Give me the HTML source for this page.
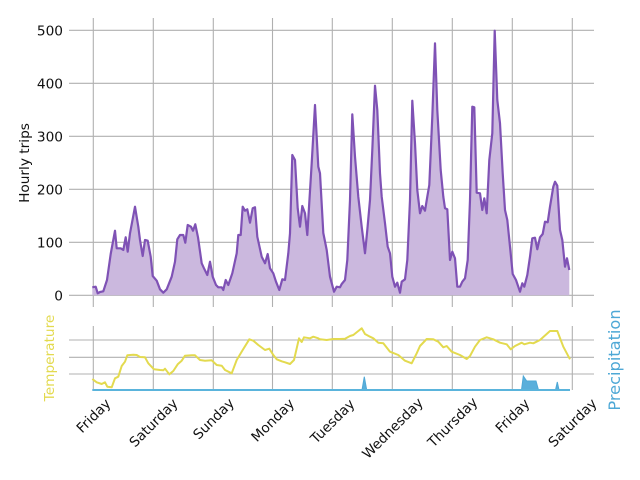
<!DOCTYPE html>
<html><head><meta charset="utf-8"><style>
html,body{margin:0;padding:0;background:#fff;}
svg{display:block;font-family:"DejaVu Sans","Liberation Sans",sans-serif;}
</style></head><body>
<svg width="640" height="480" viewBox="0 0 640 480">
<g stroke="#b0b0b0" stroke-width="1.1">
<line x1="69" y1="30.3" x2="594" y2="30.3"/><line x1="69" y1="83.3" x2="594" y2="83.3"/>
<line x1="69" y1="136.3" x2="594" y2="136.3"/><line x1="69" y1="189.3" x2="594" y2="189.3"/>
<line x1="69" y1="242.3" x2="594" y2="242.3"/><line x1="69" y1="295.3" x2="594" y2="295.3"/>
<line x1="93.3" y1="18" x2="93.3" y2="307"/><line x1="153.3" y1="18" x2="153.3" y2="307"/>
<line x1="213.3" y1="18" x2="213.3" y2="307"/><line x1="272.5" y1="18" x2="272.5" y2="307"/>
<line x1="332.3" y1="18" x2="332.3" y2="307"/><line x1="392.3" y1="18" x2="392.3" y2="307"/>
<line x1="452.3" y1="18" x2="452.3" y2="307"/><line x1="512.3" y1="18" x2="512.3" y2="307"/>
<line x1="572.3" y1="18" x2="572.3" y2="307"/>
<line x1="69" y1="340" x2="594" y2="340"/><line x1="69" y1="357.3" x2="594" y2="357.3"/><line x1="69" y1="374" x2="594" y2="374"/>
<line x1="93.3" y1="326" x2="93.3" y2="390"/><line x1="153.3" y1="326" x2="153.3" y2="390"/>
<line x1="213.3" y1="326" x2="213.3" y2="390"/><line x1="272.5" y1="326" x2="272.5" y2="390"/>
<line x1="332.3" y1="326" x2="332.3" y2="390"/><line x1="392.3" y1="326" x2="392.3" y2="390"/>
<line x1="452.3" y1="326" x2="452.3" y2="390"/><line x1="512.3" y1="326" x2="512.3" y2="390"/>
<line x1="572.3" y1="326" x2="572.3" y2="390"/>
</g>
<defs>
<polyline id="trips" points="92.3,287.3 95.7,286.7 97.7,293.3 100,292 103.3,291.3 107,280 110.7,254 115,230.7 116.7,248.3 118.3,248.3 120.7,248.3 123.3,250 125.7,237.3 127.7,251.7 130,233.3 135,206.7 138.3,226.7 140,240 142.7,256 145,240 147.7,240.7 150.7,256.7 152.7,276 156.7,280.7 160,289.3 163.3,292.7 166.7,289.3 171.7,276.7 175,261.7 177.3,239.3 180,235 183.3,235 185.3,242.7 187.7,225 191,226.7 193,230.7 195.3,224.3 198,237.3 201.7,263.3 204,268.3 207.3,275 210,261.7 212.7,276.7 216,285 218.3,287.3 221.7,287.3 223.3,290 225.7,280 228.3,285 232.3,273.3 236.7,253.3 238.3,235 240.7,235 242.7,206.7 245,210.7 247.3,209.3 250,222.7 252.7,208.3 255,207.3 257.3,236.7 261.7,256.7 265,263.3 267.7,254 270,268.3 273.3,273.3 276,281.7 279.3,290 282.3,279.3 285,280 288.3,253.3 290,233.3 292.3,155 295,160 297.7,208.3 300,226.7 302.3,206 305,213.3 307.3,235 311.7,163.3 315,105 318.3,166.7 320,173.3 323.3,233 326.7,250 330,276.7 334,291.7 336.7,286.7 340,287.3 341.7,284 345,280 347.3,260 350,200 352.3,114.3 355,156.7 358.3,196.7 361.7,226.7 365,253.3 367.3,230 370,200 372.3,150 375,85.7 377.3,110 380,173.3 381.7,196.7 385,223.3 387.7,246.7 390,253.3 392.3,276.7 395,286.7 397.3,282.7 400,292.7 401.7,281.7 405,279.3 407.3,260 410,200 412.3,100.7 415,143.3 417.3,190 420,213.3 422.3,206 425,210.7 427.3,196.7 429.3,185 432.3,116.7 435,43.3 437.3,110 440.7,170 443.3,196.7 445,208.3 447.3,209.3 450,260 452.3,251.7 455,258.3 457.3,286.7 460,286.7 462.3,281.7 465,278.3 467.7,260 470,200 472.3,106.7 474.3,107.3 476.7,192.7 480,193.3 482.3,210 484.3,198.3 486.7,213.3 489.3,160 492.3,133.3 494.7,30.7 497.3,100 500,123.3 502.7,173.3 505,210 507.3,220 510,246.7 512.7,274 516,280 520,291.7 522.3,283.3 524.3,286.7 527.3,275 530,256.7 532.3,238.3 535,237.7 537.3,249.3 540,237.3 542.7,234 545,221.7 547.7,222.3 550,206.7 553.3,186.7 555,181.7 557.3,185.7 560,230 562.3,240 565,266.7 567,258.3 569.3,270"/>
</defs>
<polygon fill="#cbb8de" points="92.3,295.3 92.3,287.3 95.7,286.7 97.7,293.3 100,292 103.3,291.3 107,280 110.7,254 115,230.7 116.7,248.3 118.3,248.3 120.7,248.3 123.3,250 125.7,237.3 127.7,251.7 130,233.3 135,206.7 138.3,226.7 140,240 142.7,256 145,240 147.7,240.7 150.7,256.7 152.7,276 156.7,280.7 160,289.3 163.3,292.7 166.7,289.3 171.7,276.7 175,261.7 177.3,239.3 180,235 183.3,235 185.3,242.7 187.7,225 191,226.7 193,230.7 195.3,224.3 198,237.3 201.7,263.3 204,268.3 207.3,275 210,261.7 212.7,276.7 216,285 218.3,287.3 221.7,287.3 223.3,290 225.7,280 228.3,285 232.3,273.3 236.7,253.3 238.3,235 240.7,235 242.7,206.7 245,210.7 247.3,209.3 250,222.7 252.7,208.3 255,207.3 257.3,236.7 261.7,256.7 265,263.3 267.7,254 270,268.3 273.3,273.3 276,281.7 279.3,290 282.3,279.3 285,280 288.3,253.3 290,233.3 292.3,155 295,160 297.7,208.3 300,226.7 302.3,206 305,213.3 307.3,235 311.7,163.3 315,105 318.3,166.7 320,173.3 323.3,233 326.7,250 330,276.7 334,291.7 336.7,286.7 340,287.3 341.7,284 345,280 347.3,260 350,200 352.3,114.3 355,156.7 358.3,196.7 361.7,226.7 365,253.3 367.3,230 370,200 372.3,150 375,85.7 377.3,110 380,173.3 381.7,196.7 385,223.3 387.7,246.7 390,253.3 392.3,276.7 395,286.7 397.3,282.7 400,292.7 401.7,281.7 405,279.3 407.3,260 410,200 412.3,100.7 415,143.3 417.3,190 420,213.3 422.3,206 425,210.7 427.3,196.7 429.3,185 432.3,116.7 435,43.3 437.3,110 440.7,170 443.3,196.7 445,208.3 447.3,209.3 450,260 452.3,251.7 455,258.3 457.3,286.7 460,286.7 462.3,281.7 465,278.3 467.7,260 470,200 472.3,106.7 474.3,107.3 476.7,192.7 480,193.3 482.3,210 484.3,198.3 486.7,213.3 489.3,160 492.3,133.3 494.7,30.7 497.3,100 500,123.3 502.7,173.3 505,210 507.3,220 510,246.7 512.7,274 516,280 520,291.7 522.3,283.3 524.3,286.7 527.3,275 530,256.7 532.3,238.3 535,237.7 537.3,249.3 540,237.3 542.7,234 545,221.7 547.7,222.3 550,206.7 553.3,186.7 555,181.7 557.3,185.7 560,230 562.3,240 565,266.7 567,258.3 569.3,270 569.3,295.3"/>
<use href="#trips" fill="none" stroke="#7f52b5" stroke-width="2.2" stroke-linejoin="round"/>
<polyline fill="none" stroke="#e3da4f" stroke-width="2" stroke-linejoin="round" points="92.3,379 96.7,382.3 101.7,384 105,382.3 107.3,386.7 111.7,387.3 115,378.3 118.3,376.7 121.7,366 125,361.7 127.3,355.3 133.3,354.7 136.7,355 140,357 145,357.3 148.3,363.3 154,369.3 160,370 163.3,370.3 165,368.7 169.3,374.3 173.3,371 177.7,364.3 181.7,360.7 185,355.7 191.7,355.3 195,355.3 200,360 205,360.7 211.7,360.3 216.7,365 221.7,365.7 225,370 231.7,373.3 236.7,360 242.7,350 249.3,339.3 253.3,340.7 258.3,345 265,350 269.3,348.7 273.3,355 276.7,359.3 281.7,361.3 285,362.3 290,364 294,360 299,338.3 301.7,342 304,337.3 310,338.3 313.3,336.7 318.3,338.3 320,339.3 326.7,340 333.3,339 340,339 345,338.7 350,336 353.3,335 358.3,331 361.7,328.3 365,334 370,336.7 373.3,338.3 378.3,342.7 383.3,343.3 390,351.7 398.3,355 405,360.7 411.7,363.3 416.7,353.3 420,346 426.7,339 433.3,339.3 438.3,341.7 443.3,347.3 446.7,346 451.7,351.7 460,355 466.7,359 470,356 475,346.7 480,340 486.7,337.3 493.3,339.3 500,342.7 506.7,344.3 510.7,349.3 515,346 521.7,342.7 524.3,344.3 530,342.7 533.3,343.3 540,340 550,331 557.3,331 563.3,346.7 570,359.3"/>
<polygon fill="#5aafdb" stroke="#4ea8d6" stroke-width="1" points="362,390 364.3,376.7 366.7,390 521.5,390 523.3,376 526.7,381 536,381 538.5,390 555.5,390 557.3,382 559,390"/>
<line x1="92.3" y1="390" x2="570" y2="390" stroke="#5ab4dc" stroke-width="2"/>
<g font-size="13.7" fill="#111" text-anchor="end">
<text x="63" y="35.3">500</text><text x="63" y="88.3">400</text><text x="63" y="141.3">300</text>
<text x="63" y="194.3">200</text><text x="63" y="247.3">100</text><text x="63" y="300.3">0</text>
</g>
<text transform="translate(29,163) rotate(-90)" font-size="13.7" text-anchor="middle" fill="#111">Hourly trips</text>
<text transform="translate(54,358) rotate(-90)" font-size="13.7" text-anchor="middle" fill="#e3da4f">Temperature</text>
<text transform="translate(620,360) rotate(-90)" font-size="16.2" text-anchor="middle" fill="#4ea8d6">Precipitation</text>
<g font-size="13.7" fill="#111" text-anchor="middle">
<text transform="translate(93.3,415.5) rotate(-45)" dy="5">Friday</text>
<text transform="translate(153.3,422.5) rotate(-45)" dy="5">Saturday</text>
<text transform="translate(213.3,418.5) rotate(-45)" dy="5">Sunday</text>
<text transform="translate(272.5,420) rotate(-45)" dy="5">Monday</text>
<text transform="translate(332.3,421) rotate(-45)" dy="5">Tuesday</text>
<text transform="translate(392.3,428) rotate(-45)" dy="5">Wednesday</text>
<text transform="translate(452.3,422) rotate(-45)" dy="5">Thursday</text>
<text transform="translate(512.3,415.5) rotate(-45)" dy="5">Friday</text>
<text transform="translate(572.3,422.5) rotate(-45)" dy="5">Saturday</text>
</g>
</svg>
</body></html>
